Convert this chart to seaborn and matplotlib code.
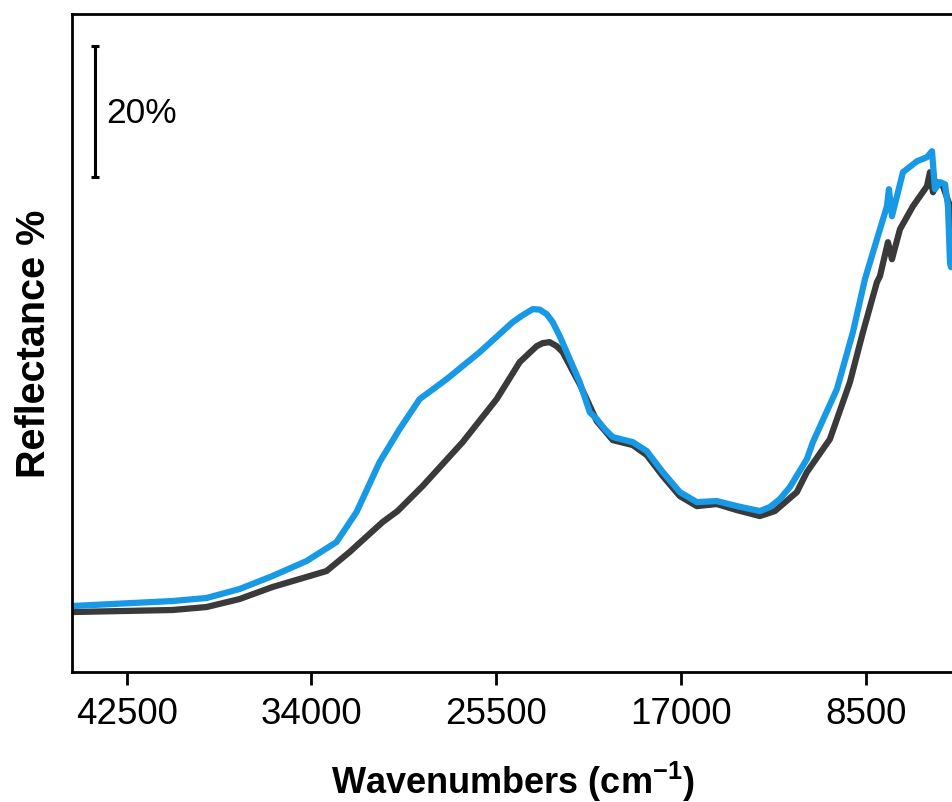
import numpy as np
import pandas as pd
import matplotlib
matplotlib.use("Agg")
import matplotlib.pyplot as plt
import seaborn as sns

# ---- data (wavenumber cm^-1, reflectance %) ----
blue_w = [45004, 40400, 38830, 37313, 35794, 34228, 32847, 31926, 30866, 29945,
          29024, 27781, 26261, 24742, 24281, 23821, 23498, 23176, 22900, 22577,
          21656, 21196, 20874, 20505, 20137, 19216, 18571, 17834, 17051, 16269,
          15348, 14427, 13368, 12907, 12446, 11986, 11203, 10927, 9822, 9085,
          8532, 7980, 7519, 7427, 7289, 7059, 6782, 6138, 5677, 5447,
          5309, 5078, 4848, 4710, 4618, 4572]
blue_r = [10.08, 10.84, 11.30, 12.67, 14.66, 16.95, 19.85, 24.43, 32.06, 37.10,
          41.68, 44.73, 48.85, 53.43, 54.50, 55.42, 55.35, 54.66, 53.43, 51.30,
          44.27, 39.69, 38.63, 37.10, 35.88, 35.11, 33.74, 30.53, 27.48, 25.95,
          26.11, 25.34, 24.58, 25.19, 26.41, 28.24, 32.52, 35.11, 43.21, 51.91,
          60.00, 66.11, 71.15, 73.74, 69.62, 72.67, 76.34, 78.01, 78.63, 79.54,
          73.74, 74.81, 74.50, 71.15, 62.59, 61.83]

black_w = [45004, 40399, 38833, 37313, 35794, 34550, 33307, 32248, 30728, 30038,
           28886, 27044, 25479, 24419, 23637, 23360, 23038, 22716, 22439, 21656,
           20874, 20137, 19216, 18571, 17834, 17051, 16269, 15348, 14427, 13368,
           12677, 11664, 11203, 10144, 9223, 8624, 7980, 7841, 7473, 7289,
           6920, 6322, 5677, 5539, 5401, 5217, 4940, 4618, 4572]
black_r = [9.16, 9.47, 9.92, 11.14, 12.98, 14.20, 15.42, 18.32, 22.90, 24.58,
           28.40, 35.11, 41.68, 47.33, 49.77, 50.23, 50.38, 49.77, 48.85, 43.97,
           38.32, 35.42, 34.66, 33.13, 29.92, 26.87, 25.34, 25.65, 24.73, 23.82,
           24.58, 27.48, 30.53, 35.57, 44.27, 51.91, 59.54, 60.46, 65.65, 63.05,
           67.63, 71.15, 74.20, 76.34, 73.28, 74.81, 74.20, 71.15, 62.0]

xticks = [42500, 34000, 25500, 17000, 8500]
scale_bar_value = 20  # percent

sns.set_style("white")
plt.rcParams['font.family'] = ['Liberation Sans', 'DejaVu Sans']
plt.rcParams['text.color'] = 'black'
plt.rcParams['axes.labelcolor'] = 'black'
plt.rcParams['xtick.color'] = 'black'

fig = plt.figure(figsize=(9.53, 8.03), dpi=100)
ax = fig.add_axes([72/953, 1 - 673/803, 1 - 72/953, (673 - 15)/803])

df_black = pd.DataFrame({"w": black_w, "r": black_r})
df_blue = pd.DataFrame({"w": blue_w, "r": blue_r})
sns.lineplot(data=df_black, x="w", y="r", ax=ax, color="#3a3a3a", lw=4.5,
             sort=False, estimator=None, solid_joinstyle="round",
             solid_capstyle="round")
sns.lineplot(data=df_blue, x="w", y="r", ax=ax, color="#1799e6", lw=4.5,
             sort=False, estimator=None, solid_joinstyle="round",
             solid_capstyle="round")

ax.set_xlim(45020, 4480)
ax.set_ylim(0, 100.5)

# scale bar
ax.errorbar([43945], [75.6 + scale_bar_value / 2], yerr=scale_bar_value / 2,
            color="black", lw=2.2, capsize=3, capthick=2.2)
ax.text(43438, 85.5, f"{scale_bar_value}%", fontsize=25.5, va="center",
        ha="left", color="black")

ax.set_xticks(xticks)
ax.set_xticklabels([str(t) for t in xticks])
ax.set_yticks([])
ax.tick_params(axis="x", direction="out", length=9, width=2, labelsize=26.5,
               pad=8, bottom=True, colors="black")
for side in ["left", "bottom", "top"]:
    ax.spines[side].set_visible(True)
    ax.spines[side].set_color("black")
    ax.spines[side].set_linewidth(2)
ax.spines["right"].set_visible(False)

ax.set_xlabel("Wavenumbers (cm$^{\\mathregular{-1}}$)", fontsize=26,
              fontweight="bold", labelpad=20, color="black")
ax.set_ylabel("Reflectance %", fontsize=28.5, fontweight="bold", labelpad=14,
              color="black")

fig.savefig("out.png", dpi=100)
